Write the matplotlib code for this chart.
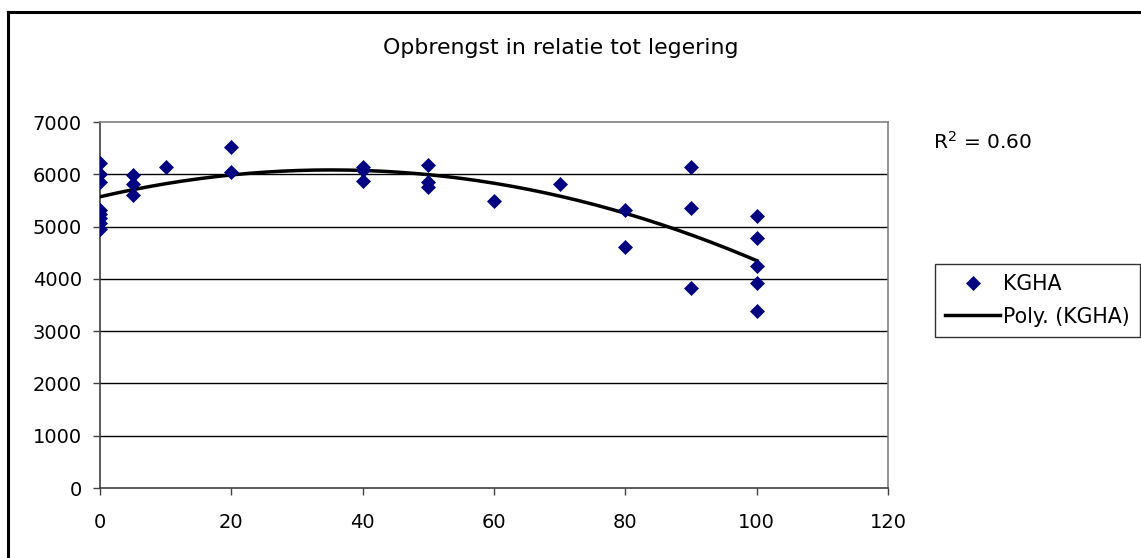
import numpy as np
import matplotlib
matplotlib.use("Agg")
import matplotlib.pyplot as plt
from matplotlib.lines import Line2D

plt.rcParams['font.family'] = ['DejaVu Sans']

# ---- data ----
legering = [0, 0, 0, 0, 0, 0, 0, 0,
            5, 5, 5,
            10,
            20, 20,
            40, 40, 40,
            50, 50, 50,
            60,
            70,
            80, 80,
            90, 90, 90,
            100, 100, 100, 100, 100]
kgha = [6220, 6010, 5850, 5320, 5240, 5160, 5060, 4960,
        5980, 5810, 5600,
        6130,
        6530, 6050,
        6130, 6080, 5880,
        6170, 5850, 5760,
        5490,
        5810,
        5320, 4600,
        6130, 5360, 3830,
        5200, 4780, 4240, 3920, 3390]

title = "Opbrengst in relatie tot legering"
r2_text = "R$^2$ = 0.60"
x_ticks = [0, 20, 40, 60, 80, 100, 120]
y_ticks = [0, 1000, 2000, 3000, 4000, 5000, 6000, 7000]

W, H = 1141, 558
fig = plt.figure(figsize=(W / 100, H / 100), dpi=100)
ax = fig.add_axes([100 / W, 1 - 488 / H, (888 - 100) / W, (488 - 122) / H])

xa = np.array(legering, dtype=float)
ya = np.array(kgha, dtype=float)

# polynomial (order 2) trendline
coef = np.polyfit(xa, ya, 2)
xt = np.linspace(xa.min(), xa.max(), 200)
yt = np.polyval(coef, xt)

ax.plot(xa, ya, linestyle='none', marker='D', markersize=6.8,
        color='#000080', markeredgewidth=0.5, markeredgecolor='#000080',
        label='KGHA', zorder=4)
ax.plot(xt, yt, color='black', linewidth=2.5, label='Poly. (KGHA)', zorder=3)

ax.set_xlim(0, 120)
ax.set_ylim(0, 7000)
ax.set_xticks(x_ticks)
ax.set_yticks(y_ticks)
ax.set_xticklabels([str(v) for v in x_ticks])
ax.set_yticklabels([str(v) for v in y_ticks])

for yv in y_ticks[1:-1]:
    ax.axhline(yv, color='black', linewidth=1.0, zorder=1)

for s in ['top', 'right']:
    ax.spines[s].set_color('#808080')
    ax.spines[s].set_linewidth(1.2)
for s in ['left', 'bottom']:
    ax.spines[s].set_color('#404040')
    ax.spines[s].set_linewidth(1.2)

ax.tick_params(axis='both', direction='out', length=5, width=1,
               color='#404040', labelsize=14, labelcolor='black')
ax.tick_params(axis='y', pad=8)
ax.tick_params(axis='x', pad=13)

fig.text(561 / W, 1 - 48 / H, title, ha='center', va='center', fontsize=15.8)
fig.text(933 / W, 1 - 142 / H, r2_text, ha='left', va='center', fontsize=14.5)

leg = ax.legend(loc='upper left', bbox_to_anchor=(935 / W, 1 - 264 / H),
                bbox_transform=fig.transFigure, fontsize=14.8, frameon=True,
                fancybox=False, shadow=False, numpoints=1, handlelength=2.65,
                handletextpad=0.15, borderpad=0.5, labelspacing=0.6,
                borderaxespad=0)
leg.get_frame().set_edgecolor('black')
leg.get_frame().set_linewidth(1.0)

# outer chart frame (top and left edges visible)
fig.add_artist(Line2D([8 / W, 1.0], [1 - 12 / H, 1 - 12 / H],
                      transform=fig.transFigure, color='black', linewidth=2.2))
fig.add_artist(Line2D([8 / W, 8 / W], [1 - 12 / H, 0.0],
                      transform=fig.transFigure, color='black', linewidth=2.2))

fig.savefig('out.png', dpi=100)
